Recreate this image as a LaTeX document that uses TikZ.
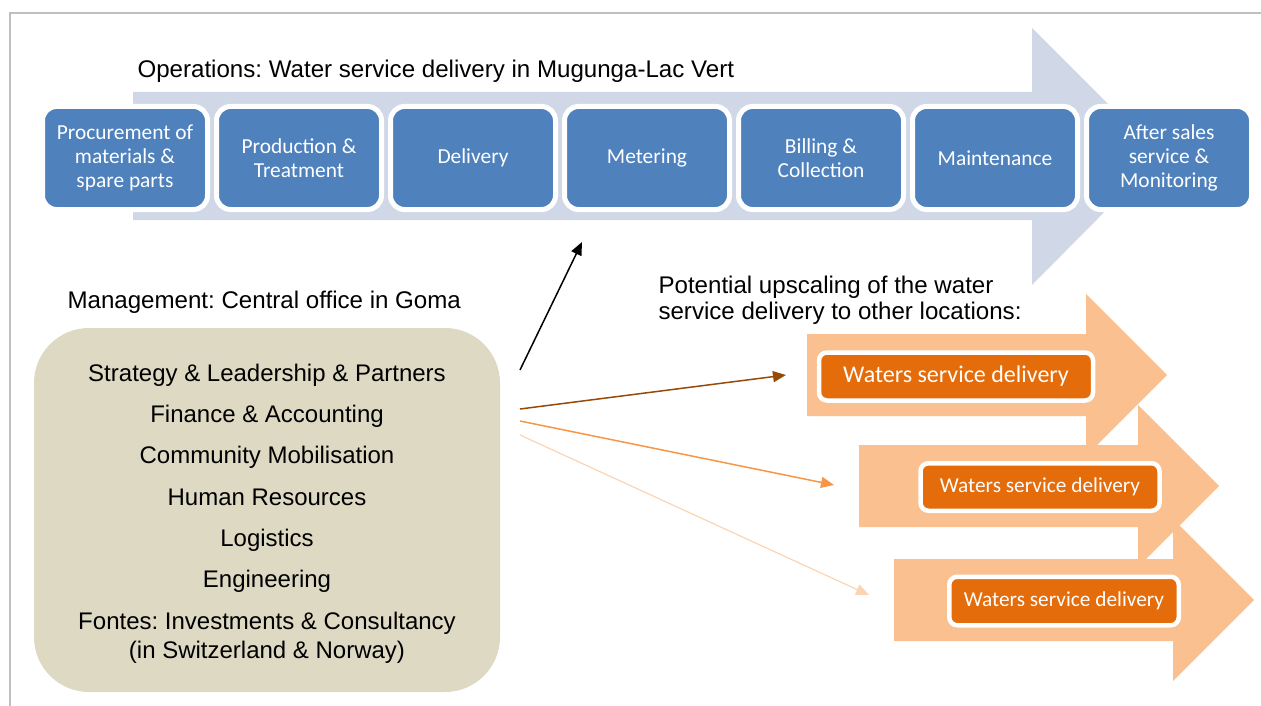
\documentclass[tikz,border=0pt]{standalone}
\usepackage{fontspec}
\setmainfont{Liberation Sans}
\newfontfamily\calibri{Carlito}
\usetikzlibrary{arrows.meta}
\frenchspacing

\definecolor{framegray}{RGB}{191,191,191}
\definecolor{flowback}{RGB}{208,216,232}
\definecolor{opsblue}{RGB}{79,129,189}
\definecolor{mgmtfill}{RGB}{221,217,195}
\definecolor{peach}{RGB}{250,192,144}
\definecolor{deeporange}{RGB}{228,108,10}
\definecolor{linkbrown}{RGB}{152,72,7}
\definecolor{linkorange}{RGB}{247,150,70}
\definecolor{linkpale}{RGB}{251,212,180}

\tikzset{
  stepbox/.style={draw=white, line width=5pt, fill=opsblue, rounded corners=14pt,
    minimum width=165pt, minimum height=103pt, inner sep=0pt, text=white,
    align=center, font=\calibri\fontsize{21.4}{24}\selectfont},
  sitebox/.style={draw=white, line width=4.5pt, fill=deeporange, rounded corners=8pt,
    inner sep=0pt, text=white, font=\calibri\fontsize{21.3}{24}\selectfont},
  mgmtline/.style={anchor=base, font=\fontsize{24}{28}\selectfont},
  label/.style={anchor=base west, font=\fontsize{24.1}{28}\selectfont},
  link/.style={line width=1.5pt, -{Triangle[length=13pt,width=11pt]}},
}

\begin{document}
\begin{tikzpicture}[x=1pt,y=-1pt]
\useasboundingbox (0,0) rectangle (1261,706);

% page frame
\draw[framegray, line width=1.5pt] (10,706) -- (10,13) -- (1261,13);

% operations backdrop arrow
\fill[flowback] (133,92) -- (1032,92) -- (1032,28) -- (1160,156) -- (1032,285)
  -- (1032,220) -- (133,220) -- cycle;

\node[label] (ops) at (134,78) {Operations: Water service delivery in Mugunga-Lac Vert};

% value chain steps (text sits on the box centre line)
\node[stepbox] (s1) at (125,158) {Procurement of\\materials \&\\spare parts};
\node[stepbox] (s2) at (299,158) {Production \&\\Treatment};
\node[stepbox] (s3) at (473,158) {Delivery};
\node[stepbox] (s4) at (647,158) {Metering};
\node[stepbox] (s5) at (821,158) {Billing \&\\Collection};
\node[stepbox] (s6) at (995,158) {Maintenance};
\node[stepbox] (s7) at (1169,158) {After sales\\service \&\\Monitoring};

% management block
\node[label] (mgmtlabel) at (64,308) {Management: Central office in Goma};
\node[fill=mgmtfill, rounded corners=55pt, minimum width=466pt, minimum height=364pt,
  inner sep=0pt] (mgmt) at (267,510) {};
\node[mgmtline] (m1) at (267,381) {Strategy \& Leadership \& Partners};
\node[mgmtline] (m2) at (267,422) {Finance \& Accounting};
\node[mgmtline] (m3) at (267,463) {Community Mobilisation};
\node[mgmtline] (m4) at (267,505) {Human Resources};
\node[mgmtline] (m5) at (267,546) {Logistics};
\node[mgmtline] (m6) at (267,587) {Engineering};
\node[mgmtline] (m7) at (267,629) {Fontes: Investments \& Consultancy};
\node[mgmtline] (m8) at (267,658) {(in Switzerland \& Norway)};

% upscaling
\node[label] (up1) at (655,293) {Potential upscaling of the water};
\node[label] (up2) at (655,319) {service delivery to other locations:};

\fill[peach] (807,334) -- (1086,334) -- (1086,294) -- (1167,375) -- (1086,456)
  -- (1086,416) -- (807,416) -- cycle;
\fill[peach] (859,445) -- (1138,445) -- (1138,405) -- (1219,486) -- (1138,567)
  -- (1138,527) -- (859,527) -- cycle;
\fill[peach] (894,559) -- (1173,559) -- (1173,519) -- (1254,600) -- (1173,681)
  -- (1173,641) -- (894,641) -- cycle;

\node[sitebox, minimum width=274pt, minimum height=48pt,
  font=\calibri\fontsize{24}{28}\selectfont] (w1) at (956,376.5) {Waters service delivery};
\node[sitebox, minimum width=239pt, minimum height=47.5pt] (w2) at (1040,487) {Waters service delivery};
\node[sitebox, minimum width=229.5pt, minimum height=48.5pt] (w3) at (1064,601) {Waters service delivery};

% connectors
\coordinate (a0) at (520,370);
\coordinate (a1) at (582,242);
\coordinate (b0) at (520,409);
\coordinate (b1) at (786,375);
\coordinate (c0) at (520,421);
\coordinate (c1) at (834,485);
\coordinate (d0) at (520,435);
\coordinate (d1) at (869,595);
\draw[link, black] (a0) -- (a1);
\draw[link, linkbrown] (b0) -- (b1);
\draw[link, linkorange] (c0) -- (c1);
\draw[link, linkpale, line width=1.2pt] (d0) -- (d1);
\end{tikzpicture}
\end{document}
